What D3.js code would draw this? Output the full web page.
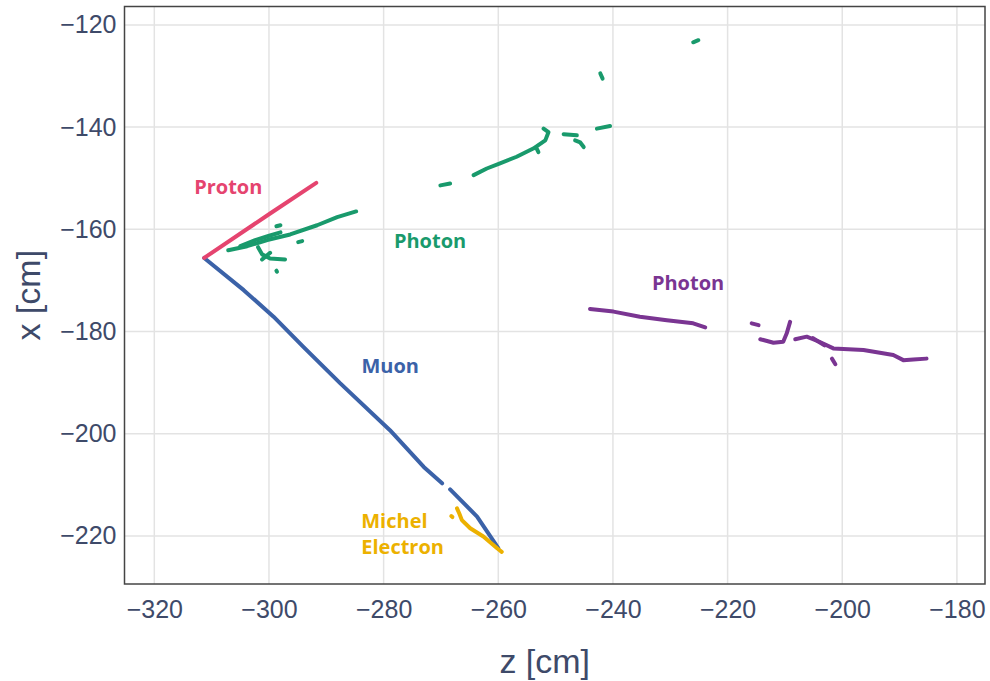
<!DOCTYPE html>
<html>
<head>
<meta charset="utf-8">
<script src="https://cdn.jsdelivr.net/npm/d3@7"></script>
<style>
  body { margin: 0; background: #fff; }
  svg { display: block; }
</style>
</head>
<body>
<svg width="990" height="681"></svg>
<script>
// TRACK DATA (z, x) in cm

var zTicks = [-320, -300, -280, -260, -240, -220, -200, -180];
var xTicks = [-120, -140, -160, -180, -200, -220];

var muon = [
    [[-311.3, -165.6], [-304.4, -171.9], [-299.2, -177.1], [-294.0, -183.0], [-287.6, -190.1],
     [-278.9, -199.3], [-273.0, -206.5], [-269.8, -209.7]],
    [[-268.4, -210.9], [-263.7, -216.2], [-260.0, -222.4]]
];

var proton = [
    [[-311.3, -165.6], [-299.8, -156.9], [-291.75, -150.9]]
];

var michel = [
    [[-267.2, -214.6], [-266.8, -215.6], [-266.35, -216.9], [-264.9, -218.5], [-262.6, -220.1],
     [-260.2, -222.4], [-259.4, -223.1]],
    [[-268.2, -216.1], [-268.0, -216.3]]
];

var photonGreen = [
    // shower near the vertex
    [[-307.1, -164.1], [-303.8, -163.3], [-300.3, -162.1], [-296.3, -161.0], [-291.6, -159.2],
     [-288.1, -157.6], [-284.8, -156.5]],
    [[-305.0, -163.3], [-302.4, -162.1], [-300.1, -161.3], [-298.0, -160.6]],
    [[-301.9, -163.5], [-301.2, -164.9], [-299.8, -165.7], [-297.2, -165.9]],
    [[-301.2, -165.9], [-299.8, -164.6]],
    [[-298.7, -159.4], [-298.0, -159.2]],
    [[-294.9, -162.5], [-294.2, -162.3]],
    [[-298.7, -168.1], [-298.6, -168.3]],
    // upper segments
    [[-270.1, -151.4], [-268.4, -151.05]],
    [[-264.3, -149.4], [-262.0, -148.1], [-259.7, -147.1], [-256.8, -145.8], [-253.9, -144.2],
     [-251.8, -142.6], [-251.25, -141.0], [-252.1, -140.3]],
    [[-253.3, -144.2], [-253.0, -144.9]],
    [[-248.6, -141.4], [-246.3, -141.6]],
    [[-246.6, -142.6], [-245.7, -143.0], [-245.1, -143.9]],
    [[-242.8, -140.3], [-240.5, -139.8]],
    [[-242.2, -129.5], [-241.8, -130.5]],
    [[-226.0, -123.4], [-225.1, -123.0]]
];

var photonPurple = [
    [[-244.0, -175.6], [-239.9, -176.1], [-235.3, -177.1], [-230.6, -177.8], [-226.0, -178.4],
     [-223.9, -179.2]],
    [[-215.8, -178.4], [-214.6, -178.75]],
    [[-214.3, -181.5], [-212.0, -182.2], [-210.3, -182.0], [-209.7, -180.4], [-209.1, -178.1]],
    [[-208.2, -181.5], [-206.2, -181.0], [-204.0, -182.0], [-201.55, -183.3], [-196.3, -183.6],
     [-191.1, -184.6], [-189.35, -185.6], [-187.6, -185.45], [-185.3, -185.3]],
    [[-205.1, -181.3], [-203.1, -182.7]],
    [[-201.8, -185.3], [-201.2, -186.4]]
];

var tracks = [
    {name: "muon", segs: muon, color: "#3b62a8"},
    {name: "proton", segs: proton, color: "#e5446f"},
    {name: "michel", segs: michel, color: "#ecb100"},
    {name: "photonGreen", segs: photonGreen, color: "#199a6c"},
    {name: "photonPurple", segs: photonPurple, color: "#7a3592"}
];

var labels = [
    {lines: ["Proton"], z: -307.1, x: -151.8, color: "#e5446f", anchor: "middle"},
    {lines: ["Photon"], z: -271.9, x: -162.3, color: "#199a6c", anchor: "middle"},
    {lines: ["Photon"], z: -226.9, x: -170.5, color: "#7a3592", anchor: "middle"},
    {lines: ["Muon"], z: -278.85, x: -186.8, color: "#3b62a8", anchor: "middle"},
    {lines: ["Michel", "Electron"], z: -283.9, x: -217.1, color: "#ecb100", anchor: "start"}
];

var svg = d3.select("svg"),
    width = +svg.attr("width"),
    height = +svg.attr("height");

var margin = {left: 124.5, top: 6.5, right: 5, bottom: 97};
var plotW = width - margin.left - margin.right,
    plotH = height - margin.top - margin.bottom;

var xScale = d3.scaleLinear().domain([-325.2, -175.1]).range([0, plotW]);
var yScale = d3.scaleLinear().domain([-229.4, -116.4]).range([plotH, 0]);

var g = svg.append("g")
    .attr("transform", "translate(" + margin.left + "," + margin.top + ")");

// grid
g.append("g").selectAll("line")
    .data(zTicks).enter().append("line")
    .attr("x1", function (d) { return xScale(d); })
    .attr("x2", function (d) { return xScale(d); })
    .attr("y1", 0).attr("y2", plotH)
    .attr("stroke", "#e3e3e3").attr("stroke-width", 1.5);
g.append("g").selectAll("line")
    .data(xTicks).enter().append("line")
    .attr("y1", function (d) { return yScale(d); })
    .attr("y2", function (d) { return yScale(d); })
    .attr("x1", 0).attr("x2", plotW)
    .attr("stroke", "#e3e3e3").attr("stroke-width", 1.5);

// axes (labels only, frame drawn separately)
var fmt = function (d) { return d < 0 ? "\u2212" + Math.abs(d) : d; };
var xAxis = g.append("g")
    .attr("transform", "translate(0," + plotH + ")")
    .call(d3.axisBottom(xScale).tickValues(zTicks).tickFormat(fmt).tickSize(0).tickPadding(16));
var yAxis = g.append("g")
    .call(d3.axisLeft(yScale).tickValues(xTicks).tickFormat(fmt).tickSize(0).tickPadding(8));
[xAxis, yAxis].forEach(function (a) {
    a.select(".domain").remove();
    a.selectAll("text")
        .attr("fill", "#3e4a69")
        .style("font-family", "'Liberation Sans', Arial, sans-serif")
        .style("font-size", "25px");
});

// tracks
var line = d3.line()
    .x(function (d) { return xScale(d[0]); })
    .y(function (d) { return yScale(d[1]); });

tracks.forEach(function (t) {
    g.append("g")
        .attr("class", t.name)
        .selectAll("path")
        .data(t.segs)
        .enter().append("path")
        .attr("d", line)
        .attr("fill", "none")
        .attr("stroke", t.color)
        .attr("stroke-width", 4)
        .attr("stroke-linecap", "round")
        .attr("stroke-linejoin", "round");
});

// labels
labels.forEach(function (l) {
    var t = g.append("text")
        .attr("x", xScale(l.z))
        .attr("y", yScale(l.x))
        .attr("text-anchor", l.anchor)
        .attr("fill", l.color)
        .style("font-family", "'Open Sans', sans-serif")
        .style("font-weight", "700")
        .style("font-size", "20px");
    l.lines.forEach(function (s, i) {
        t.append("tspan")
            .attr("x", xScale(l.z))
            .attr("dy", i === 0 ? "0.35em" : "1.3em")
            .text(s);
    });
});

// frame
g.append("rect")
    .attr("width", plotW).attr("height", plotH)
    .attr("fill", "none")
    .attr("stroke", "#444")
    .attr("stroke-width", 1.5);

// axis titles
svg.append("text")
    .attr("x", margin.left + plotW / 2 - 10)
    .attr("y", 673)
    .attr("text-anchor", "middle")
    .attr("fill", "#3e4a69")
    .style("font-family", "'Liberation Sans', Arial, sans-serif")
    .style("font-size", "34px")
    .text("z [cm]");
svg.append("text")
    .attr("transform", "translate(40," + (margin.top + plotH / 2) + ") rotate(-90)")
    .attr("text-anchor", "middle")
    .attr("fill", "#3e4a69")
    .style("font-family", "'Liberation Sans', Arial, sans-serif")
    .style("font-size", "34px")
    .text("x [cm]");
</script>
</body>
</html>
